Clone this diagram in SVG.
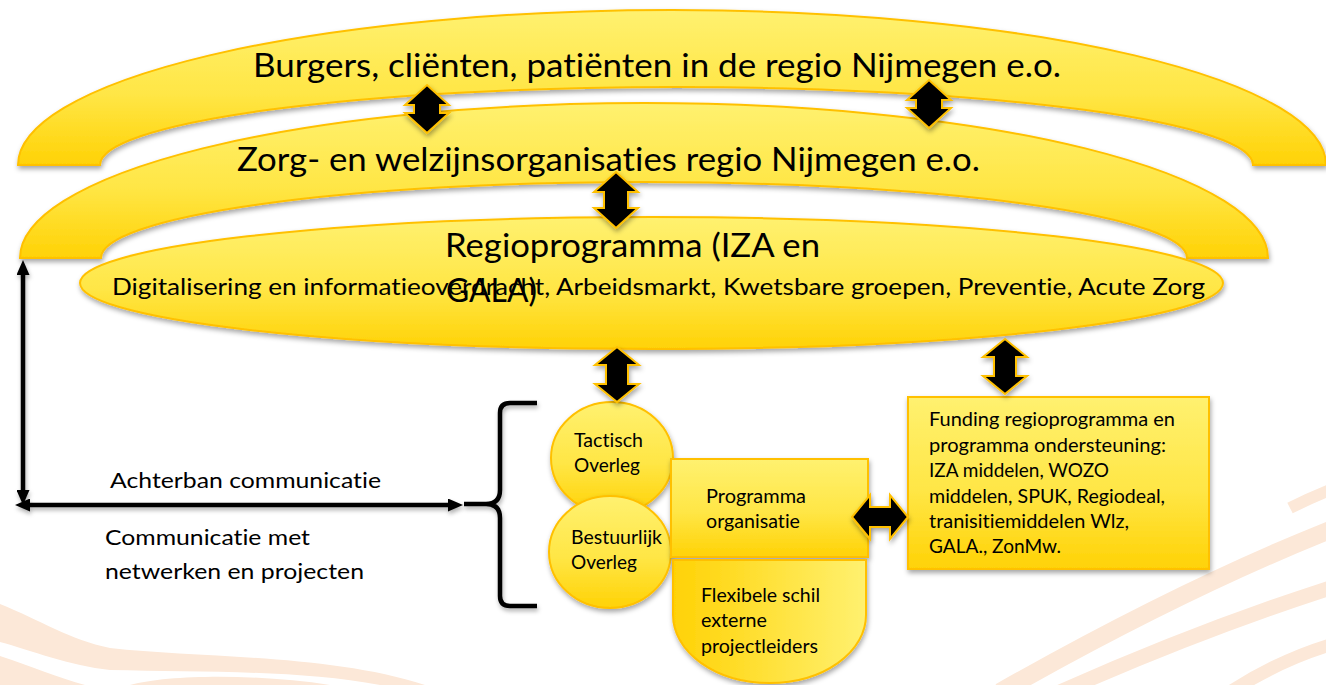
<svg xmlns="http://www.w3.org/2000/svg" width="1326" height="685" viewBox="0 0 1326 685">
<style>
  .t { font-family: Lato, "Liberation Sans", sans-serif; fill: #000; font-variant-ligatures: none; font-feature-settings: "liga" 0; }
  .gold { stroke: #FFC000; stroke-width: 2; }
  .arrow { fill: #000; stroke: #FFC000; stroke-width: 2; stroke-linejoin: miter; }
  .line { stroke: #000; stroke-width: 4.5; fill: none; }
  .swoosh { fill: #FCE8D8; }
  .swl { fill: none; stroke: #FCE8D8; }
</style>
<defs>
  <linearGradient id="gv" x1="0" y1="0" x2="0" y2="1">
    <stop offset="0" stop-color="#FFF170"/>
    <stop offset="0.55" stop-color="#FFE645"/>
    <stop offset="1" stop-color="#FFD205"/>
  </linearGradient>
  <linearGradient id="gh" x1="0" y1="0" x2="1" y2="0">
    <stop offset="0" stop-color="#FFD205"/>
    <stop offset="1" stop-color="#FFF170"/>
  </linearGradient>
  <filter id="sh" x="-10%" y="-10%" width="125%" height="140%">
    <feDropShadow dx="1" dy="3" stdDeviation="2.5" flood-color="#000" flood-opacity="0.35"/>
  </filter>
  <filter id="shl" filterUnits="userSpaceOnUse" x="0" y="0" width="1326" height="685">
    <feDropShadow dx="1" dy="3" stdDeviation="2" flood-color="#000" flood-opacity="0.3"/>
  </filter>
  <marker id="ah" viewBox="0 0 15 13" refX="2" refY="6.5" markerWidth="15" markerHeight="13" orient="auto-start-reverse" markerUnits="userSpaceOnUse">
    <path d="M0,0 L15,6.5 L0,13 Z" fill="#000"/>
  </marker>
</defs>

<g id="background">
  <path class="swoosh" d="M0,604 C40,620 70,640 110,648 C200,658 330,654 425,685 L380,685 C300,670 200,672 110,670 C70,666 30,650 0,642 Z"/>
  <path class="swoosh" d="M0,656 C30,666 60,678 85,685 L0,685 Z"/>
  <path class="swoosh" d="M130,685 C170,674 260,674 330,685 Z"/>
  <path class="swl" stroke-width="18" d="M1330,530 Q1180,590 1000,692"/>
  <path class="swl" stroke-width="15" d="M1330,588 Q1200,630 1060,692"/>
  <path class="swl" stroke-width="13" d="M1330,645 Q1280,660 1230,692"/>
  <path class="swl" stroke-width="12" d="M1330,490 Q1310,498 1290,508"/>
</g>

<g id="node-burgers">
  <path d="M18,165 A654,155 0 0 1 1326,165 L1253,165 A576.5,78 0 0 0 100,165 Z" fill="url(#gv)" class="gold" filter="url(#sh)"/>
  <text class="t" x="253" y="77" font-size="32" textLength="808" lengthAdjust="spacingAndGlyphs">Burgers, cliënten, patiënten in de regio Nijmegen e.o.</text>
</g>

<g id="node-zorg">
  <path d="M20,258 A624,155 0 0 1 1268,258 L1187,258 A543,76 0 0 0 101,258 Z" fill="url(#gv)" class="gold" filter="url(#sh)"/>
  <text class="t" x="237" y="171" font-size="32" textLength="743" lengthAdjust="spacingAndGlyphs">Zorg- en welzijnsorganisaties regio Nijmegen e.o.</text>
</g>

<g id="node-regioprogramma">
  <ellipse cx="651.5" cy="283" rx="571.5" ry="66" fill="url(#gv)" class="gold" filter="url(#sh)"/>
  <text class="t" x="445" y="257" font-size="32" textLength="375" lengthAdjust="spacingAndGlyphs">Regioprogramma (IZA en</text>
  <text class="t" x="112" y="295" font-size="24" textLength="1093" lengthAdjust="spacingAndGlyphs">Digitalisering en informatieoverdracht, Arbeidsmarkt, Kwetsbare groepen, Preventie, Acute Zorg</text>
  <text class="t" x="446" y="302" font-size="32" textLength="91" lengthAdjust="spacingAndGlyphs">GALA)</text>
</g>

<g id="node-tactisch">
  <ellipse cx="612" cy="458" rx="61" ry="56" fill="url(#gv)" class="gold" filter="url(#sh)"/>
  <text class="t" x="574" y="447" font-size="18.5" textLength="69" lengthAdjust="spacingAndGlyphs">Tactisch</text>
  <text class="t" x="574" y="472" font-size="18.5" textLength="66" lengthAdjust="spacingAndGlyphs">Overleg</text>
</g>

<g id="node-bestuurlijk">
  <ellipse cx="610" cy="552" rx="61" ry="56" fill="url(#gv)" class="gold" filter="url(#sh)"/>
  <text class="t" x="571" y="544" font-size="18.5" textLength="91" lengthAdjust="spacingAndGlyphs">Bestuurlijk</text>
  <text class="t" x="571" y="569" font-size="18.5" textLength="66" lengthAdjust="spacingAndGlyphs">Overleg</text>
</g>

<g id="node-programma">
  <rect x="671" y="459" width="197" height="98" fill="url(#gv)" class="gold" filter="url(#sh)"/>
  <text class="t" x="706" y="503" font-size="18.5" textLength="100" lengthAdjust="spacingAndGlyphs">Programma</text>
  <text class="t" x="706" y="528" font-size="18.5" textLength="94" lengthAdjust="spacingAndGlyphs">organisatie</text>
</g>

<g id="node-flexibele">
  <path d="M673,560 H866 V615 A96.5,68 0 0 1 673,615 Z" fill="url(#gh)" class="gold" filter="url(#sh)"/>
  <text class="t" x="701" y="602" font-size="18.5" textLength="119" lengthAdjust="spacingAndGlyphs">Flexibele schil</text>
  <text class="t" x="701" y="627" font-size="18.5" textLength="66" lengthAdjust="spacingAndGlyphs">externe</text>
  <text class="t" x="701" y="653" font-size="18.5" textLength="117" lengthAdjust="spacingAndGlyphs">projectleiders</text>
</g>

<g id="node-funding">
  <rect x="908" y="397" width="301" height="172" fill="url(#gv)" class="gold" filter="url(#sh)"/>
  <text class="t" x="929" y="426" font-size="19" textLength="246" lengthAdjust="spacingAndGlyphs">Funding regioprogramma en</text>
  <text class="t" x="929" y="452" font-size="19" textLength="237" lengthAdjust="spacingAndGlyphs">programma ondersteuning:</text>
  <text class="t" x="929" y="477" font-size="19" textLength="180" lengthAdjust="spacingAndGlyphs">IZA middelen, WOZO</text>
  <text class="t" x="929" y="503" font-size="19" textLength="236" lengthAdjust="spacingAndGlyphs">middelen, SPUK, Regiodeal,</text>
  <text class="t" x="929" y="528" font-size="19" textLength="200" lengthAdjust="spacingAndGlyphs">tranisitiemiddelen Wlz,</text>
  <text class="t" x="929" y="553" font-size="19" textLength="132" lengthAdjust="spacingAndGlyphs">GALA., ZonMw.</text>
</g>

<g id="connectors">
  <path class="arrow" filter="url(#sh)" d="M427,85 L449,105 L440,105 L440,113 L449,113 L427,133 L405,113 L414,113 L414,105 L405,105 Z"/>
  <path class="arrow" filter="url(#sh)" d="M929,80 L951,100 L942,100 L942,108 L951,108 L929,128 L907,108 L916,108 L916,100 L907,100 Z"/>
  <path class="arrow" filter="url(#sh)" d="M616,172 L638,192 L628,192 L628,208 L638,208 L616,228 L594,208 L604,208 L604,192 L594,192 Z"/>
  <path class="arrow" filter="url(#sh)" d="M617,347 L639,365 L628,365 L628,384 L639,384 L617,402 L595,384 L606,384 L606,365 L595,365 Z"/>
  <path class="arrow" filter="url(#sh)" d="M1005,339 L1027,357 L1016,357 L1016,376 L1027,376 L1005,394 L983,376 L994,376 L994,357 L983,357 Z"/>
  <path class="arrow" filter="url(#sh)" d="M852,517 L870,495 L870,507 L890,507 L890,495 L908,517 L890,539 L890,527 L870,527 L870,539 Z"/>
  <line class="line" x1="23" y1="273" x2="23" y2="492" marker-start="url(#ah)" marker-end="url(#ah)" filter="url(#shl)"/>
  <line class="line" x1="28" y1="505" x2="450" y2="505" marker-start="url(#ah)" marker-end="url(#ah)" filter="url(#shl)"/>
  <path class="line" stroke-width="5" filter="url(#shl)" d="M537,403 L510,403 Q500,403 500,413 L500,490 Q500,504 486,504 L464,504 M486,504 Q500,504 500,518 L500,596 Q500,606 510,606 L537,606"/>
  <text class="t" x="110" y="488" font-size="22" textLength="271" lengthAdjust="spacingAndGlyphs">Achterban communicatie</text>
  <text class="t" x="105" y="545" font-size="22" textLength="205" lengthAdjust="spacingAndGlyphs">Communicatie met</text>
  <text class="t" x="105" y="579" font-size="22" textLength="259" lengthAdjust="spacingAndGlyphs">netwerken en projecten</text>
</g>
</svg>
